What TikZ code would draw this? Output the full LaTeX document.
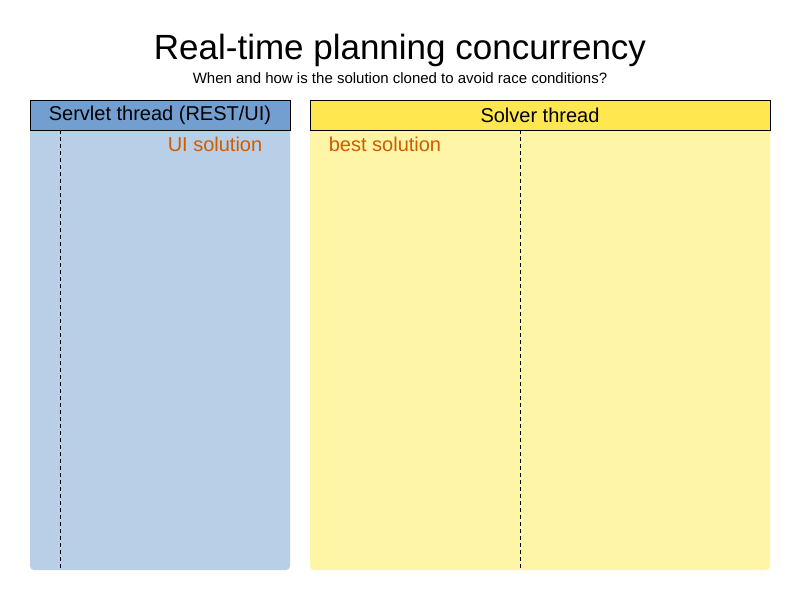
\documentclass[tikz,border=0pt]{standalone}
\usepackage{fontspec}
\setmainfont{Liberation Sans}
\definecolor{hdrblue}{HTML}{729FCF}
\definecolor{bodyblue}{HTML}{B9CFE7}
\definecolor{hdryellow}{HTML}{FFE74F}
\definecolor{bodyyellow}{HTML}{FFF5A6}
\definecolor{labelorange}{HTML}{CE5C00}
\begin{document}
\begin{tikzpicture}[x=1pt,y=-1pt,
  lanehdr/.style={draw=black, line width=0.8pt, minimum height=30pt, inner sep=0pt, font=\fontsize{20}{24}\selectfont},
  lanelabel/.style={text=labelorange, inner sep=0pt, font=\fontsize{20}{24}\selectfont},
  lifeline/.style={draw=black, line width=0.8pt, dash pattern=on 4pt off 3pt}]
\useasboundingbox[fill=white] (0,0) rectangle (800,600);
% titles
\node[inner sep=0pt, font=\fontsize{35}{40}\selectfont] (title) at (400,50) {Real-time planning concurrency};
\node[inner sep=0pt, font=\fontsize{15}{18}\selectfont] (subtitle) at (400,78) {When and how is the solution cloned to avoid race conditions?};
% lane bodies
\fill[bodyblue, rounded corners=4pt] (30,120) -- (30,570) -- (290,570) -- (290,120) -- cycle;
\fill[bodyblue] (30,110) rectangle (290,135);
\fill[bodyyellow, rounded corners=4pt] (310,120) -- (310,570) -- (770,570) -- (770,120) -- cycle;
\fill[bodyyellow] (310,110) rectangle (770,135);
% headers
\node[lanehdr, fill=hdrblue, minimum width=260pt] (servlet) at (160,115) {Servlet thread (REST/UI)};
\node[lanehdr, fill=hdryellow, minimum width=460pt] (solver) at (540,115) {Solver thread};
% lifelines
\coordinate (l1top) at (60,130);
\coordinate (l1bot) at (60,570);
\coordinate (l2top) at (520,130);
\coordinate (l2bot) at (520,570);
\draw[lifeline] (l1top) -- (l1bot);
\draw[lifeline] (l2top) -- (l2bot);
% labels
\node[lanelabel] (uisol) at (215,144) {UI solution};
\node[lanelabel] (bestsol) at (385,144) {best solution};
\end{tikzpicture}
\end{document}
